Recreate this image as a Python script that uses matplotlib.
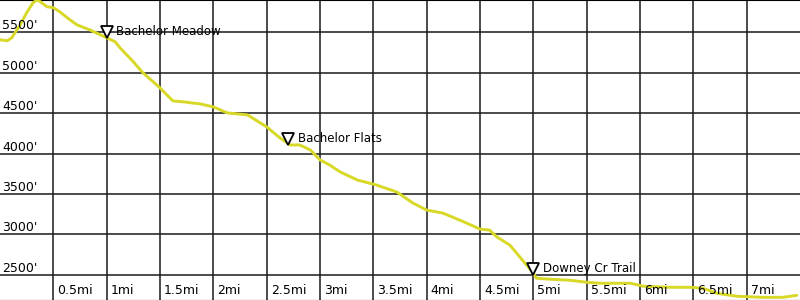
import numpy as np
import matplotlib
matplotlib.use('Agg')
import matplotlib.pyplot as plt
from matplotlib import transforms

# elevation profile (miles, feet)
dist = [0.00, 0.066, 0.11, 0.14, 0.19, 0.25, 0.31, 0.35, 0.39, 0.44, 0.50, 0.56,
        0.63, 0.72, 0.84, 0.94, 1.00, 1.08, 1.125, 1.25, 1.34, 1.50, 1.62, 1.72,
        1.875, 2.00, 2.13, 2.32, 2.50, 2.625, 2.72, 2.81, 2.91, 3.00, 3.09, 3.19,
        3.35, 3.53, 3.72, 3.87, 4.00, 4.15, 4.31, 4.50, 4.59, 4.66, 4.78, 4.875,
        5.00, 5.03, 5.16, 5.34, 5.50, 5.625, 5.78, 5.91, 6.03, 6.28, 6.47, 6.59,
        6.72, 6.91, 7.15, 7.34, 7.47]
elev = [5405, 5392, 5429, 5491, 5590, 5739, 5863, 5900, 5863, 5813, 5801, 5751,
        5677, 5590, 5528, 5467, 5429, 5380, 5306, 5133, 4997, 4811, 4650, 4638,
        4613, 4576, 4502, 4477, 4329, 4193, 4106, 4106, 4044, 3921, 3859, 3772,
        3673, 3611, 3525, 3389, 3302, 3265, 3178, 3067, 3054, 2968, 2869, 2720,
        2522, 2460, 2447, 2435, 2410, 2398, 2398, 2398, 2361, 2348, 2348, 2336,
        2274, 2237, 2224, 2224, 2249]

wp_names = ['Bachelor Meadow', 'Bachelor Flats', 'Downey Cr Trail']
wp_dist = [1.0, 2.7, 5.0]
wp_elev = [5429, 4106, 2500]

x_ticks = [0.5, 1, 1.5, 2, 2.5, 3, 3.5, 4, 4.5, 5, 5.5, 6, 6.5, 7]
x_labels = ['0.5mi', '1mi', '1.5mi', '2mi', '2.5mi', '3mi', '3.5mi', '4mi',
            '4.5mi', '5mi', '5.5mi', '6mi', '6.5mi', '7mi']
y_ticks = [2500, 3000, 3500, 4000, 4500, 5000, 5500]
y_labels = ["2500'", "3000'", "3500'", "4000'", "4500'", "5000'", "5500'"]

fig = plt.figure(figsize=(8, 3), dpi=100)
ax = fig.add_axes([0, 0, 1, 1])
ax.set_xlim(0, 7.5)
ax.set_ylim(2191, 5896)
ax.set_xticks([])
ax.set_yticks([])
for side in ['left', 'right']:
    ax.spines[side].set_visible(False)

for xv in x_ticks:
    ax.axvline(xv, color='#1a1a1a', linewidth=1.1, zorder=1)
for yv in y_ticks:
    ax.axhline(yv, color='#1a1a1a', linewidth=1.1, zorder=1)

ax.plot(dist, elev, color='#d8d826', linewidth=2.1, zorder=3,
        solid_joinstyle='round', solid_capstyle='round')

# tick labels drawn inside the plot area
yt = transforms.blended_transform_factory(ax.transAxes, ax.transData)
for yv, lab in zip(y_ticks, y_labels):
    ax.text(0.003, yv, lab, transform=yt, fontsize=9, ha='left', va='bottom',
            zorder=4)
xt = transforms.blended_transform_factory(ax.transData, ax.transAxes)
for xv, lab in zip(x_ticks, x_labels):
    ax.annotate(lab, xy=(xv, 0.01), xycoords=xt, xytext=(3, 0),
                textcoords='offset points', fontsize=9, ha='left',
                va='bottom', zorder=4)

# waypoints: open triangle with its tip on the trail, name to the right
ms = 8
lift = transforms.ScaledTranslation(0, ms / 2 / 72, fig.dpi_scale_trans)
ax.plot(wp_dist, wp_elev, linestyle='none', marker='v', markersize=ms,
        markerfacecolor='white', markeredgecolor='black', markeredgewidth=1.3,
        transform=ax.transData + lift, zorder=5)
for name, xv, yv in zip(wp_names, wp_dist, wp_elev):
    ax.annotate(name, xy=(xv, yv), xytext=(7, ms / 2 + 0.5),
                textcoords='offset points', fontsize=8.5, ha='left',
                va='center', zorder=5)

fig.savefig('out.png', dpi=100)
